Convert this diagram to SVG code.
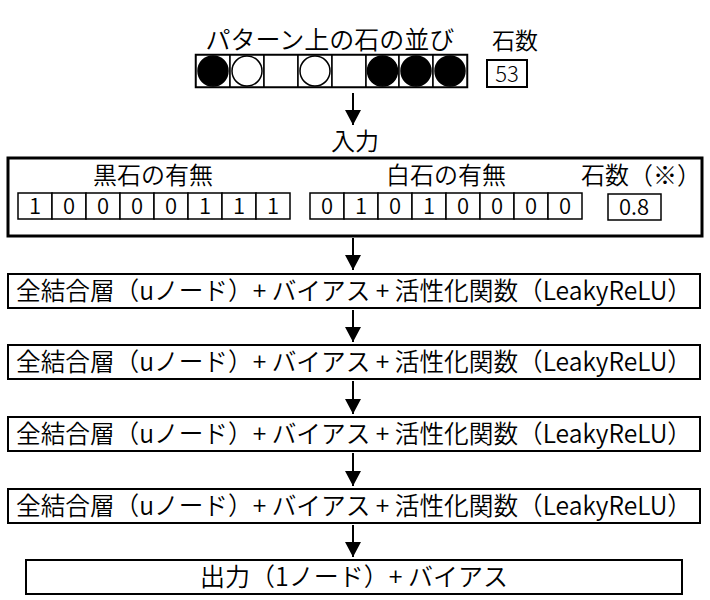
<svg xmlns="http://www.w3.org/2000/svg" width="710" height="600" viewBox="0 0 710 600">
<defs>
<style>
text{font-family:"Noto Sans CJK JP","Noto Sans",sans-serif;font-weight:350;fill:#000;text-anchor:middle}
.t25{font-size:25px}
.t24{font-size:24px}
.t23{font-size:23px}
.d{font-size:22px;font-weight:300}
.cell{fill:#fff;stroke:#000;stroke-width:1.5}
.box{fill:#fff;stroke:#000;stroke-width:2}
.big{fill:#fff;stroke:#000;stroke-width:3}
.b{fill:#000;stroke:#000;stroke-width:1.5}
.w{fill:#fff;stroke:#000;stroke-width:1.5}
.conn{stroke:#000;stroke-width:2;fill:none}
</style>
<marker id="ah" viewBox="0 0 15 16" refX="15" refY="8" markerWidth="15" markerHeight="16" markerUnits="userSpaceOnUse" orient="auto">
<path d="M0,0 L15,8 L0,16 Z" fill="#000"/>
</marker>
</defs>
<rect width="710" height="600" fill="#fff"/>

<g id="pattern">
<text class="t25" x="330" y="49">パターン上の石の並び</text>
<rect x="196" y="55" width="271" height="32" fill="#fff" stroke="#000" stroke-width="2.5"/>
<g class="cell">
<rect x="196" y="55" width="34" height="32"/><rect x="230" y="55" width="34" height="32"/><rect x="264" y="55" width="34" height="32"/><rect x="298" y="55" width="34" height="32"/><rect x="332" y="55" width="34" height="32"/><rect x="366" y="55" width="33" height="32"/><rect x="399" y="55" width="34" height="32"/><rect x="433" y="55" width="34" height="32"/>
</g>
<circle class="b" cx="213" cy="71" r="15"/>
<circle class="w" cx="247" cy="71" r="15"/>
<circle class="w" cx="315" cy="71" r="15"/>
<circle class="b" cx="382.5" cy="71" r="15"/>
<circle class="b" cx="416" cy="71" r="15"/>
<circle class="b" cx="450" cy="71" r="15"/>
</g>

<g id="count">
<text class="t23" x="515" y="49">石数</text>
<rect class="box" x="487" y="60" width="40" height="27"/>
<text class="d" x="507" y="82">53</text>
</g>

<g id="input">
<text class="t24" x="355" y="150">入力</text>
<rect class="big" x="8" y="158" width="694" height="78"/>
<text class="t24" x="153" y="184">黒石の有無</text>
<text class="t24" x="446" y="184">白石の有無</text>
<text class="t24" x="641" y="184">石数（※）</text>
<g class="cell">
<rect x="18" y="193" width="34" height="26"/><rect x="52" y="193" width="34" height="26"/><rect x="86" y="193" width="34" height="26"/><rect x="120" y="193" width="34" height="26"/><rect x="154" y="193" width="34" height="26"/><rect x="188" y="193" width="34" height="26"/><rect x="222" y="193" width="34" height="26"/><rect x="256" y="193" width="34" height="26"/>
<rect x="310" y="193" width="34" height="26"/><rect x="344" y="193" width="34" height="26"/><rect x="378" y="193" width="34" height="26"/><rect x="412" y="193" width="34" height="26"/><rect x="446" y="193" width="34" height="26"/><rect x="480" y="193" width="34" height="26"/><rect x="514" y="193" width="34" height="26"/><rect x="548" y="193" width="34" height="26"/>
<rect x="608" y="194" width="53" height="26"/>
</g>
<g class="d">
<text x="35" y="214">1</text><text x="69" y="214">0</text><text x="103" y="214">0</text><text x="137" y="214">0</text><text x="171" y="214">0</text><text x="205" y="214">1</text><text x="239" y="214">1</text><text x="273" y="214">1</text>
<text x="327" y="214">0</text><text x="361" y="214">1</text><text x="395" y="214">0</text><text x="429" y="214">1</text><text x="463" y="214">0</text><text x="497" y="214">0</text><text x="531" y="214">0</text><text x="565" y="214">0</text>
<text x="634" y="215">0.8</text>
</g>
</g>

<g id="layer1">
<rect class="box" x="8" y="274" width="692" height="34"/>
<text class="t25" x="354" y="300" textLength="676" lengthAdjust="spacingAndGlyphs">全結合層（uノード）+ バイアス + 活性化関数（LeakyReLU）</text>
</g>
<g id="layer2">
<rect class="box" x="8" y="345" width="692" height="34"/>
<text class="t25" x="354" y="371" textLength="676" lengthAdjust="spacingAndGlyphs">全結合層（uノード）+ バイアス + 活性化関数（LeakyReLU）</text>
</g>
<g id="layer3">
<rect class="box" x="8" y="417" width="692" height="34"/>
<text class="t25" x="354" y="443" textLength="676" lengthAdjust="spacingAndGlyphs">全結合層（uノード）+ バイアス + 活性化関数（LeakyReLU）</text>
</g>
<g id="layer4">
<rect class="box" x="8" y="489" width="692" height="34"/>
<text class="t25" x="354" y="515" textLength="676" lengthAdjust="spacingAndGlyphs">全結合層（uノード）+ バイアス + 活性化関数（LeakyReLU）</text>
</g>
<g id="output">
<rect class="box" x="26" y="560" width="656" height="34"/>
<text class="t25" x="354" y="586">出力（1ノード）+ バイアス</text>
</g>

<g id="connectors">
<line class="conn" x1="353" y1="93" x2="353" y2="125" marker-end="url(#ah)"/>
<line class="conn" x1="353" y1="238" x2="353" y2="270" marker-end="url(#ah)"/>
<line class="conn" x1="353" y1="310" x2="353" y2="342" marker-end="url(#ah)"/>
<line class="conn" x1="353" y1="381" x2="353" y2="414" marker-end="url(#ah)"/>
<line class="conn" x1="353" y1="453" x2="353" y2="486" marker-end="url(#ah)"/>
<line class="conn" x1="353" y1="525" x2="353" y2="557" marker-end="url(#ah)"/>
</g>
</svg>
